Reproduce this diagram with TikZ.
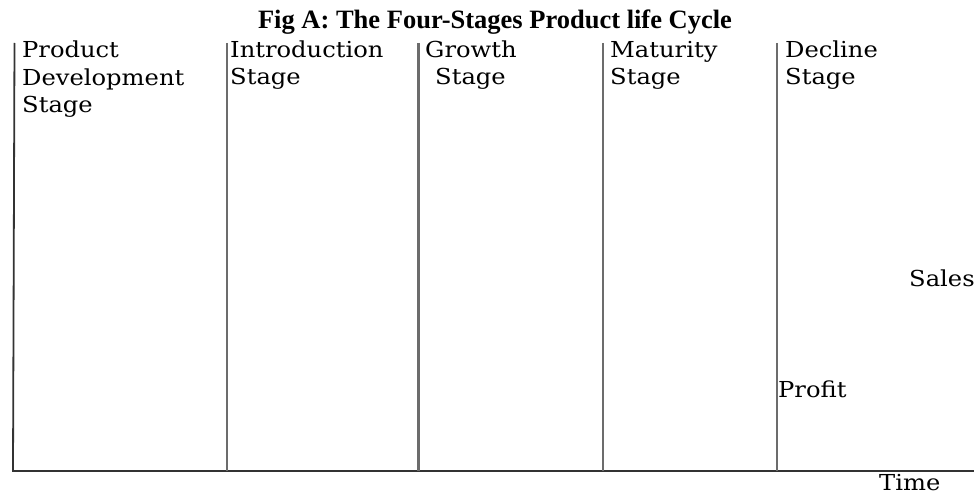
\documentclass[tikz,border=0pt]{standalone}
\usepackage{fontspec}
\newfontfamily\labfont[FakeStretch=1.1]{DejaVu Serif}
\newfontfamily\headfont{Liberation Serif}
\begin{document}
\begin{tikzpicture}[x=1pt,y=-1pt,
  lab/.style={anchor=base west, inner sep=0pt, align=left,
    font=\labfont\fontsize{22}{27.5}\selectfont},
  divider/.style={draw=gray!85!black, line width=2.8pt},
  axis/.style={draw=black!80, line width=1.8pt}]
\useasboundingbox (0,0) rectangle (974,492);

% title
\node[anchor=base, inner sep=0pt, font=\headfont\bfseries\fontsize{26.5}{30}\selectfont]
  (title) at (495,29) {Fig A: The Four-Stages Product life Cycle};

% axes
\coordinate (origin) at (13,471);
\coordinate (ytop) at (14.5,43);
\coordinate (xend) at (974,471);
\draw[axis] (ytop) -- (origin) -- (xend);

% stage dividers
\foreach \n/\x in {intro/227, growth/418.5, mature/603, decline/777} {
  \coordinate (\n top) at (\x,43);
  \coordinate (\n bot) at (\x,471);
  \draw[divider] (\n top) -- (\n bot);
}

% stage names (anchored at the baseline of their last line)
\node[lab] (devlab) at (22,113) {Product\\Development\\Stage};
\node[lab] (introlab) at (230,85) {Introduction\\Stage};
\node[lab] (growlab) at (425,85) {Growth\\\hspace*{10pt}Stage};
\node[lab] (matlab) at (610,85) {Maturity\\Stage};
\node[lab] (declab) at (785,85) {Decline\\Stage};

% curve labels
\node[lab] (sales) at (909,286) {Sales};
\node[lab] (profit) at (778,397) {Profit};
\node[lab] (time) at (879,490) {Time};
\end{tikzpicture}
\end{document}
